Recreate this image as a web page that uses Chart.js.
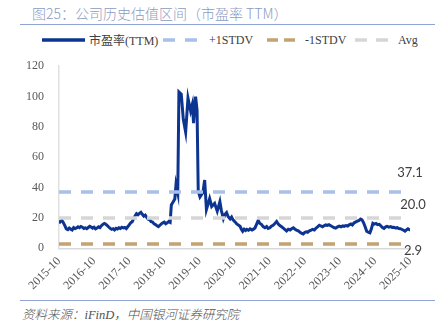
<!DOCTYPE html>
<html lang="zh">
<head>
<meta charset="UTF-8">
<title>公司历史估值区间</title>
<script src="https://cdn.jsdelivr.net/npm/chart.js"></script>
<style>
    body { margin: 0; background: #fff; }
    #wrap { position: relative; width: 440px; height: 326px; overflow: hidden; }
    .title { position: absolute; left: 32px; top: 3px; font: 300 14px "Noto Sans CJK SC", sans-serif; color: #8b9bbf; white-space: nowrap; }
    .rule { position: absolute; left: 20px; width: 415px; height: 0; border-top: 1.5px solid #8fa3d4; }
    .source { position: absolute; left: 22px; top: 304px; font: italic 300 12.5px "Liberation Serif", "Noto Sans CJK SC", serif; color: #505050; white-space: nowrap; }
    .leg { position: absolute; top: 33px; height: 14px; display: flex; align-items: center; font: 12px "Liberation Serif", "Noto Sans CJK SC", serif; color: #404040; white-space: nowrap; }
    .leg svg { margin-right: 4px; }
    canvas { position: absolute; left: 0; top: 44px; }
</style>
</head>
<body>
<div id="wrap">
    <div class="title">图25：公司历史估值区间（市盈率 TTM）</div>
    <div class="rule" style="top:24px"></div>

    <div class="leg" style="left:42px"><svg width="43" height="6"><line x1="0" y1="3" x2="43" y2="3" stroke="#0d3491" stroke-width="3.5"/></svg>市盈率(TTM)</div>
    <div class="leg" style="left:163px"><svg width="36" height="6" style="margin-right:10px"><line x1="0" y1="3" x2="36" y2="3" stroke="#a9c0e8" stroke-width="3.5" stroke-dasharray="12 10"/></svg>+1STDV</div>
    <div class="leg" style="left:267px"><svg width="28" height="6" style="margin-right:10px"><line x1="0" y1="3" x2="28" y2="3" stroke="#c4a373" stroke-width="3.5" stroke-dasharray="11 6"/></svg>-1STDV</div>
    <div class="leg" style="left:355px"><svg width="33" height="6" style="margin-right:10px"><line x1="0" y1="3" x2="33" y2="3" stroke="#d6d6d6" stroke-width="3.5" stroke-dasharray="12 9"/></svg>Avg</div>

    <canvas id="peChart" width="440" height="256"></canvas>

    <div class="rule" style="top:300px"></div>
    <div class="source">资料来源：iFinD，中国银河证券研究院</div>
</div>

<script>
// [months since 2015-10, PE (TTM)]
const peSeries = [
    [0, 16.5], [0.5, 17.8], [1, 18.3], [1.5, 16.8], [2, 15], [2.5, 12.8], [3, 12.3], [3.5, 13.4],
    [4, 12.6], [4.5, 12.1], [5, 13.6], [5.5, 13], [6, 13.4], [6.5, 14.2], [7, 13.6], [7.5, 14.4],
    [8, 13.9], [8.5, 13.1], [9, 13.5], [9.5, 12.9], [10, 13.7], [10.5, 14.5], [11, 14], [11.5, 13.3],
    [12, 13.9], [12.5, 12.8], [13, 13.3], [13.5, 14.1], [14, 13.6], [14.5, 14.9], [15, 15.8], [15.5, 16.4],
    [16, 15.9], [16.5, 15], [17, 14], [17.5, 13.1], [18, 12.5], [18.5, 12.9], [19, 12.1], [19.5, 13.2],
    [20, 12.7], [20.5, 13.5], [21, 13.1], [21.5, 13.9], [22, 13.4], [22.5, 13.8], [23, 13], [23.5, 14.2],
    [24, 15.4], [24.5, 16.8], [25, 17.4], [25.5, 19.5], [26, 21.3], [26.5, 22.8], [27, 22.1], [27.5, 23],
    [28, 23.7], [28.5, 22.4], [29, 21.2], [29.5, 21.9], [30, 20.3], [30.5, 19.1], [31, 18.8], [31.5, 17.6],
    [32, 17.3], [32.5, 16.1], [33, 15.6], [33.5, 14.9], [34, 14.3], [34.5, 15.2], [35, 16.1], [35.5, 16.8],
    [36, 17.3], [36.5, 16.2], [37, 16.8], [37.5, 17.6], [38, 17.1],
    [38.4, 28.5], [39, 30.5], [39.6, 32.5], [40, 42], [40.6, 36.5],
    [41, 103], [41.8, 101.5], [42.5, 85], [43.3, 76.5], [44.1, 99], [45, 90.5], [45.6, 95], [46, 82.5],
    [46.7, 100], [47.2, 91], [47.6, 37.8], [48.2, 33.8], [49.2, 36.8], [49.8, 45], [50.4, 25.5],
    [51.5, 32.7], [52.2, 27.6], [53.2, 29.6], [54.1, 24.5], [55, 30.7],
    [55.5, 25], [56.2, 19.6], [56.7, 22.2], [57.3, 23.5], [57.8, 21], [58.5, 19.4], [59, 20.6], [59.5, 18.7],
    [60.2, 17.4], [60.7, 16.2], [61.3, 15.3], [61.9, 14.5], [62.4, 12.4], [62.8, 11.2], [63.3, 12.6], [63.8, 11.8],
    [64.2, 12.5], [64.8, 11.9], [65.3, 12.8], [66, 12.1], [66.5, 12.6], [67, 13.4], [67.5, 15.6], [68.1, 18.4],
    [68.6, 16.5], [69.2, 15.8], [69.8, 14.3], [70.4, 13.6], [71, 14.4], [71.5, 13.1], [72.1, 13.5], [72.6, 14.6],
    [73.2, 15.2], [73.8, 16.3], [74.4, 17.6], [74.9, 16.1], [75.5, 15], [76.1, 14.2], [76.7, 13.3], [77.2, 12.4],
    [77.8, 11.4], [78.4, 12.6], [79, 12.1], [79.5, 12.9], [80.1, 13.5], [80.7, 12.6], [81.2, 12], [81.8, 11.5],
    [82.4, 10.6], [83, 9.8], [83.5, 9.4], [84, 10.4], [84.5, 10.9], [85, 10.6], [85.6, 11.5], [86.2, 11.9],
    [86.7, 12.5], [87.3, 12.1], [87.8, 13.2], [88.4, 14.1], [89, 15.2], [89.5, 14.7], [90.1, 14.2], [90.6, 14.8],
    [91.2, 15.4], [91.8, 15.1], [92.3, 15.6], [92.9, 14.9], [93.5, 14.2], [94, 13.7], [94.6, 13.3], [95.2, 14.1],
    [95.8, 14.6], [96.4, 14.2], [97, 14.8], [97.5, 14.4], [98.1, 15], [98.7, 14.7], [99.2, 15.5], [99.8, 16],
    [100.3, 15.4], [100.9, 16.8], [101.5, 17.4], [102, 17.9], [102.6, 18.4], [103.1, 19.3], [103.6, 18.8], [104.1, 17],
    [104.6, 14.5], [105.2, 11.2], [105.7, 10.6], [106.3, 10.2], [106.8, 12.8], [107.3, 16.5], [107.8, 15.9], [108.4, 16.4],
    [108.9, 15.6], [109.5, 15.8], [110, 14.9], [110.6, 13.6], [111.1, 13.1], [111.7, 14.1], [112.2, 14.5], [112.8, 13.9],
    [113.4, 14.3], [113.9, 13.8], [114.5, 13.9], [115, 13.4], [115.6, 13.6], [116.2, 13], [116.7, 12.9], [117.3, 12.4],
    [117.8, 11.9], [118.3, 11.3], [118.8, 12.1], [119.3, 12.9], [119.8, 12.3], [120, 12.6]
];
const yearLabels = ['2015-10', '2016-10', '2017-10', '2018-10', '2019-10', '2020-10',
                    '2021-10', '2022-10', '2023-10', '2024-10', '2025-10'];
const plusStd = 37.1;
const avgPe = 20.0;
const minusStd = 2.9;

const flat = v => [{ x: 0, y: v }, { x: 120, y: v }];

// value labels at the right end of the three bands
const bandLabels = {
    id: 'bandLabels',
    afterDraw(chart) {
        const { ctx, chartArea, scales } = chart;
        ctx.save();
        ctx.font = '13px Lato, sans-serif';
        ctx.fillStyle = '#404040';
        ctx.textAlign = 'center';
        ctx.textBaseline = 'middle';
        ctx.fillText(plusStd.toFixed(1), chartArea.right, scales.y.getPixelForValue(plusStd) - 19.5);
        ctx.fillText(avgPe.toFixed(1), chartArea.right + 3, scales.y.getPixelForValue(avgPe) - 13);
        ctx.fillText(minusStd.toFixed(1), chartArea.right + 3, scales.y.getPixelForValue(minusStd) + 6.5);
        ctx.restore();
    }
};

new Chart(document.getElementById('peChart'), {
    type: 'line',
    data: {
        datasets: [
            { label: '市盈率(TTM)', data: peSeries.map(p => ({ x: p[0], y: p[1] })),
              borderColor: '#0d3491', borderWidth: 3, pointRadius: 0, order: 2 },
            { label: '+1STDV', data: flat(plusStd), borderColor: '#a9c0e8', borderWidth: 3.5,
              borderDash: [12, 10], pointRadius: 0, order: 1 },
            { label: '-1STDV', data: flat(minusStd), borderColor: '#c4a373', borderWidth: 3.5,
              borderDash: [12, 10], pointRadius: 0, order: 1 },
            { label: 'Avg', data: flat(avgPe), borderColor: '#d6d6d6', borderWidth: 3.5,
              borderDash: [12, 10], pointRadius: 0, order: 1 }
        ]
    },
    options: {
        responsive: false,
        animation: false,
        layout: { padding: { top: 8.7, left: 0, right: 30, bottom: 0 } },
        plugins: { legend: { display: false }, tooltip: { enabled: false } },
        scales: {
            x: {
                type: 'linear', min: 0, max: 120,
                grid: { display: false, drawTicks: false },
                border: { display: true, color: '#d9d9d9', width: 1.5 },
                ticks: {
                    stepSize: 12, autoSkip: false, maxRotation: 45, minRotation: 45, padding: 6,
                    color: '#595959', font: { family: 'Liberation Serif', size: 12 },
                    callback: v => yearLabels[v / 12]
                },
                afterFit: s => { s.height = 51.7; }
            },
            y: {
                min: 0, max: 120,
                grid: { display: false, drawTicks: false },
                border: { display: true, color: '#e0e0e0', width: 1.5 },
                ticks: { stepSize: 20, padding: 15, color: '#595959', font: { family: 'Liberation Serif', size: 12 } },
                afterFit: s => { s.width = 59; }
            }
        }
    },
    plugins: [bandLabels]
});
</script>
</body>
</html>
